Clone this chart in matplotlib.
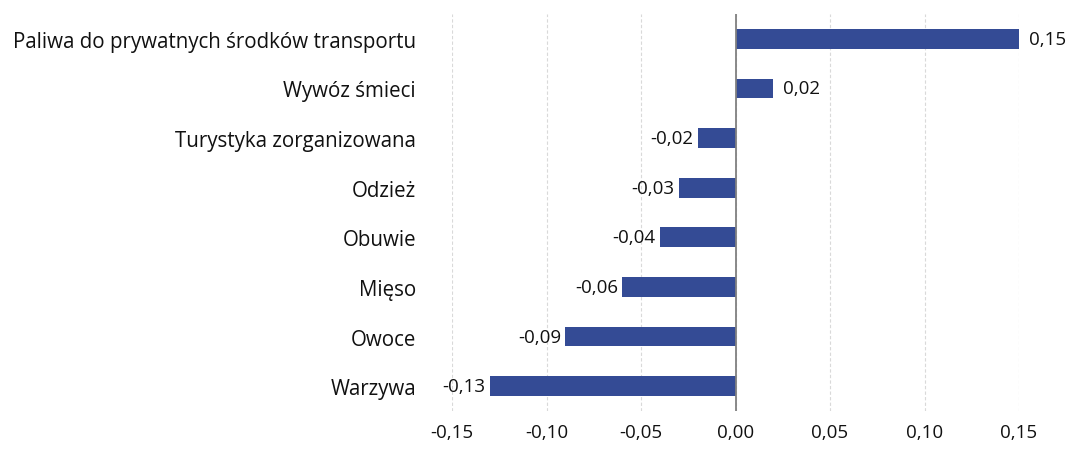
import matplotlib
matplotlib.use('Agg')
import matplotlib.pyplot as plt
from matplotlib.ticker import FuncFormatter

# data (top to bottom as in the chart)
categories = ['Paliwa do prywatnych środków transportu', 'Wywóz śmieci',
              'Turystyka zorganizowana', 'Odzież', 'Obuwie', 'Mięso',
              'Owoce', 'Warzywa']
values = [0.15, 0.02, -0.02, -0.03, -0.04, -0.06, -0.09, -0.13]
xticks = [-0.15, -0.10, -0.05, 0.00, 0.05, 0.10, 0.15]

plt.rcParams['font.family'] = ['Open Sans', 'DejaVu Sans']
plt.rcParams['font.size'] = 13.5

bar_color = '#344b95'
text_color = '#111111'

fig = plt.figure(figsize=(10.69, 4.52), dpi=100)
ax = fig.add_axes([452 / 1069, 1 - 412 / 452, (1019 - 452) / 1069, (412 - 15) / 452])

y = list(range(len(categories)))[::-1]
ax.barh(y, values, height=0.4, color=bar_color, zorder=3)

for yi, v in zip(y, values):
    label = f'{v:.2f}'.replace('.', ',')
    if v >= 0:
        ax.annotate(label, (v, yi), xytext=(7, 0), textcoords='offset points',
                    ha='left', va='center', color=text_color, annotation_clip=False)
    else:
        ax.annotate(label, (v, yi), xytext=(-3, 0), textcoords='offset points',
                    ha='right', va='center', color=text_color, annotation_clip=False)

ax.set_xlim(-0.15, 0.15)
ax.set_ylim(-0.5, len(categories) - 0.5)
ax.set_xticks(xticks)
ax.xaxis.set_major_formatter(FuncFormatter(lambda v, p: f'{v:.2f}'.replace('.', ',').replace('-0,00', '0,00')))
ax.set_yticks(y)
ax.set_yticklabels(categories, fontsize=14.8)

ax.grid(axis='x', linestyle=(0, (3, 2)), color='#d9d9d9', linewidth=0.8, zorder=0)
ax.axvline(0, color='#808080', linewidth=1.3, zorder=4)

for s in ax.spines.values():
    s.set_visible(False)
ax.tick_params(axis='both', length=0, colors=text_color)
ax.tick_params(axis='y', pad=26)
ax.tick_params(axis='x', pad=9)

fig.savefig('out.png', dpi=100)
